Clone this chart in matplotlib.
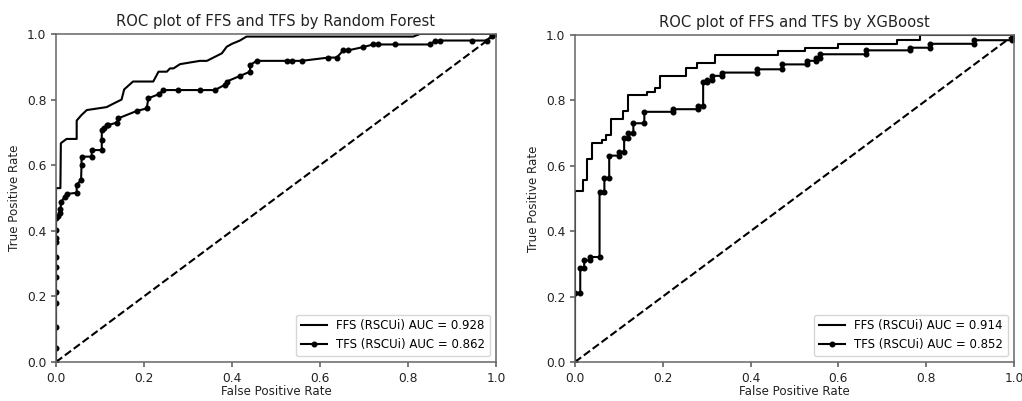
import matplotlib
matplotlib.use("Agg")
import matplotlib.pyplot as plt

# Random Forest ROC points (fpr, tpr)
rf_ffs_fpr = [0, 0, 0.01, 0.011, 0.024, 0.047, 0.047, 0.058, 0.07, 0.115, 0.134, 0.149, 0.155, 0.175,
              0.221, 0.233, 0.252, 0.259, 0.267, 0.282, 0.327, 0.343, 0.377, 0.388, 0.40, 0.418, 0.433,
              0.812, 0.827, 1.0]
rf_ffs_tpr = [0, 0.53, 0.53, 0.667, 0.68, 0.68, 0.736, 0.753, 0.768, 0.777, 0.79, 0.80, 0.831, 0.855,
              0.855, 0.885, 0.885, 0.895, 0.895, 0.908, 0.918, 0.918, 0.941, 0.961, 0.97, 0.98, 0.992,
              0.992, 1.0, 1.0]

rf_tfs_fpr = [0, 0, 0, 0, 0, 0, 0, 0, 0, 0, 0, 0,
              0.004, 0.01, 0.01, 0.012, 0.02, 0.024, 0.047, 0.047, 0.057, 0.058, 0.058, 0.081, 0.081,
              0.104, 0.104, 0.104, 0.108, 0.115, 0.119, 0.138, 0.142, 0.183, 0.206, 0.21, 0.233, 0.244,
              0.278, 0.327, 0.361, 0.384, 0.388, 0.418, 0.441, 0.441, 0.456, 0.524, 0.536, 0.558,
              0.619, 0.638, 0.653, 0.664, 0.698, 0.721, 0.732, 0.77, 0.85, 0.861, 0.873, 0.945, 0.979,
              0.99, 0.992, 1.0]
rf_tfs_tpr = [0, 0.042, 0.108, 0.179, 0.214, 0.26, 0.29, 0.321, 0.367, 0.378, 0.402, 0.438,
              0.445, 0.455, 0.465, 0.489, 0.504, 0.512, 0.516, 0.54, 0.555, 0.60, 0.626, 0.626, 0.646,
              0.646, 0.677, 0.707, 0.712, 0.722, 0.722, 0.73, 0.743, 0.765, 0.773, 0.804, 0.816, 0.829,
              0.829, 0.829, 0.829, 0.845, 0.855, 0.872, 0.885, 0.905, 0.918, 0.918, 0.918, 0.918,
              0.928, 0.928, 0.95, 0.95, 0.96, 0.968, 0.968, 0.968, 0.968, 0.978, 0.98, 0.98, 0.98,
              0.994, 1.0, 1.0]

# XGBoost ROC points (fpr, tpr)
xgb_ffs_fpr = [0, 0, 0.019, 0.019, 0.028, 0.028, 0.038, 0.038, 0.061, 0.061, 0.071, 0.071, 0.082, 0.082,
               0.11, 0.11, 0.121, 0.121, 0.163, 0.163, 0.182, 0.182, 0.194, 0.194, 0.254, 0.254, 0.277,
               0.277, 0.319, 0.319, 0.462, 0.462, 0.524, 0.524, 0.6, 0.6, 0.733, 0.733, 0.786, 0.786, 1.0]
xgb_ffs_tpr = [0, 0.524, 0.524, 0.558, 0.558, 0.621, 0.621, 0.669, 0.669, 0.679, 0.679, 0.694, 0.694, 0.743,
               0.743, 0.766, 0.766, 0.816, 0.816, 0.826, 0.826, 0.839, 0.839, 0.875, 0.875, 0.9, 0.9,
               0.915, 0.915, 0.938, 0.938, 0.95, 0.95, 0.961, 0.961, 0.973, 0.973, 0.985, 0.985, 1.0, 1.0]

xgb_tfs_fpr = [0, 0, 0.012, 0.012, 0.021, 0.021, 0.034, 0.034, 0.056, 0.056, 0.067, 0.067, 0.078, 0.078,
               0.1, 0.1, 0.112, 0.112, 0.121, 0.121, 0.133, 0.133, 0.158, 0.158, 0.224, 0.224, 0.281,
               0.281, 0.292, 0.292, 0.3, 0.3, 0.313, 0.313, 0.336, 0.336, 0.414, 0.414, 0.471, 0.471,
               0.528, 0.528, 0.55, 0.55, 0.558, 0.558, 0.663, 0.663, 0.763, 0.763, 0.809, 0.809, 0.909,
               0.909, 0.995, 0.995, 1.0]
xgb_tfs_tpr = [0, 0.21, 0.21, 0.286, 0.286, 0.311, 0.311, 0.321, 0.321, 0.52, 0.52, 0.562, 0.562, 0.631,
               0.631, 0.641, 0.641, 0.685, 0.685, 0.699, 0.699, 0.73, 0.73, 0.765, 0.765, 0.773, 0.773,
               0.783, 0.783, 0.855, 0.855, 0.862, 0.862, 0.875, 0.875, 0.885, 0.885, 0.895, 0.895, 0.91,
               0.91, 0.921, 0.921, 0.929, 0.929, 0.941, 0.941, 0.953, 0.953, 0.961, 0.961, 0.973, 0.973,
               0.984, 0.984, 0.992, 1.0]

panels = [
    ("ROC plot of FFS and TFS by Random Forest", rf_ffs_fpr, rf_ffs_tpr, rf_tfs_fpr, rf_tfs_tpr,
     "FFS (RSCUi) AUC = 0.928", "TFS (RSCUi) AUC = 0.862"),
    ("ROC plot of FFS and TFS by XGBoost", xgb_ffs_fpr, xgb_ffs_tpr, xgb_tfs_fpr, xgb_tfs_tpr,
     "FFS (RSCUi) AUC = 0.914", "TFS (RSCUi) AUC = 0.852"),
]

fig = plt.figure(figsize=(10.22, 4.01), dpi=100)
positions = [[0.0548, 0.0973, 0.4305, 0.818], [0.5626, 0.0973, 0.4295, 0.8155]]

for pos, (title, f_fpr, f_tpr, t_fpr, t_tpr, f_lab, t_lab) in zip(positions, panels):
    ax = fig.add_axes(pos)
    ax.plot(f_fpr, f_tpr, color='black', lw=1.5, label=f_lab)
    ax.plot(t_fpr, t_tpr, color='black', lw=1.5, marker='o', markersize=3.3, label=t_lab)
    ax.plot([0, 1], [0, 1], color='black', lw=1.5, linestyle='--')
    ax.set_xlim(0, 1)
    ax.set_ylim(0, 1)
    ax.set_title(title, fontsize=10.6, color='#222222')
    ax.set_xlabel('False Positive Rate', fontsize=8.6, color='#222222', labelpad=0.5)
    ax.set_ylabel('True Positive Rate', fontsize=8.6, color='#222222')
    ax.tick_params(labelsize=8.8, colors='#555555', labelcolor='#222222', width=1.1)
    for s in ax.spines.values():
        s.set_color('#666666')
        s.set_linewidth(1.1)
    ax.legend(loc='lower right', fontsize=8.5, handlelength=2.2)

fig.savefig('out.png', dpi=100)
